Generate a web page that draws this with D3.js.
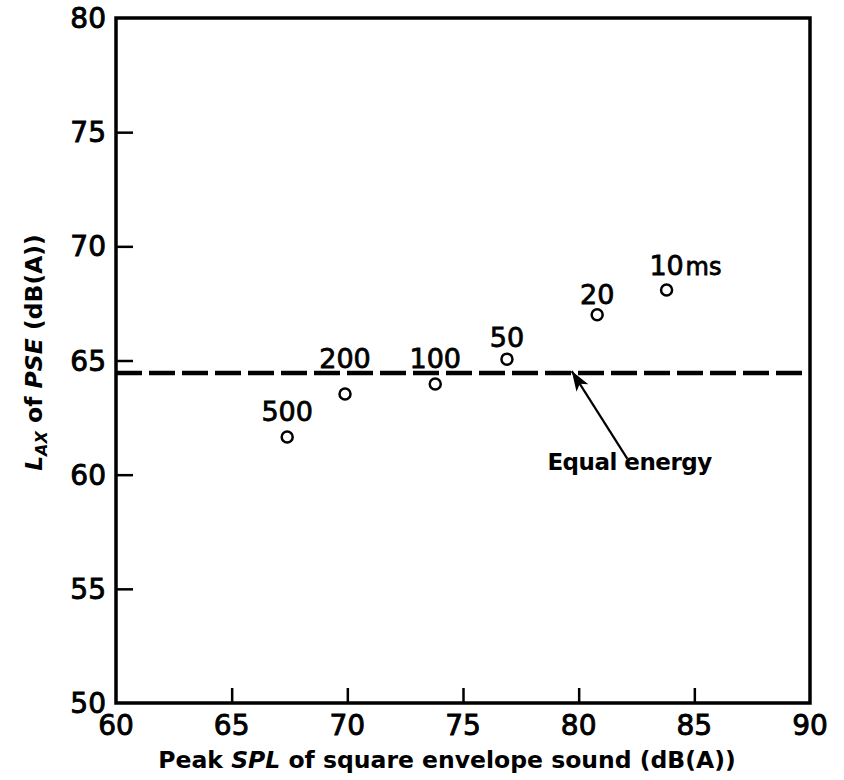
<!DOCTYPE html>
<html lang="en">
<head>
    <meta charset="UTF-8">
    <title>LAX of PSE</title>
    <script src="https://cdn.jsdelivr.net/npm/d3@7/dist/d3.min.js"></script>
    <style>
        body { margin: 0; background: white; }
        text { font-family: "DejaVu Sans", sans-serif; fill: black; }
        .tick-label { font-size: 28px; stroke: black; stroke-width: 0.9px; }
        .pt-label { font-size: 27px; stroke: black; stroke-width: 0.8px; }
        .title { font-size: 23.5px; font-weight: bold; }
        .frame { fill: none; stroke: black; stroke-width: 3.5; }
    </style>
</head>
<body>
<script>
    const width = 844;
    const height = 780;
    const margin = {top: 18, right: 34, bottom: 77, left: 116};

    // data
    const durations = ["500", "200", "100", "50", "20", "10"];
    const peakSPL = [67.4, 69.9, 73.8, 76.9, 80.8, 83.8];
    const laxPSE = [61.65, 63.53, 63.97, 65.06, 67.0, 68.09];
    const equalEnergy = 64.45;
    const xTicks = [60, 65, 70, 75, 80, 85, 90];
    const yTicks = [50, 55, 60, 65, 70, 75, 80];

    // label baseline offset above each circle (px)
    const labelDy = [16, 26, 16, 12, 11, 15];

    const svg = d3.select("body").append("svg")
            .attr("width", width).attr("height", height);

    const x = d3.scaleLinear().domain([60, 90])
            .range([margin.left, width - margin.right]);
    const y = d3.scaleLinear().domain([50, 80])
            .range([height - margin.bottom, margin.top]);

    // inward ticks, no domain line (frame drawn below)
    svg.append("g")
            .attr("transform", `translate(0,${y(50)})`)
            .call(d3.axisBottom(x).tickValues(xTicks.slice(1, -1)).tickSize(-15).tickFormat(""));
    svg.append("g")
            .attr("transform", `translate(${x(60)},0)`)
            .call(d3.axisLeft(y).tickValues(yTicks.slice(1, -1)).tickSize(-17).tickFormat(""));
    svg.selectAll(".domain").remove();
    svg.selectAll(".tick line").attr("stroke", "black").attr("stroke-width", 2.5);

    svg.append("rect")
            .attr("class", "frame")
            .attr("x", x(60)).attr("y", y(80))
            .attr("width", x(90) - x(60)).attr("height", y(50) - y(80));

    svg.selectAll("text.xt")
            .data(xTicks)
            .enter().append("text")
            .attr("class", "tick-label xt")
            .attr("x", d => x(d))
            .attr("y", y(50) + 32)
            .attr("text-anchor", "middle")
            .text(d => d);

    svg.selectAll("text.yt")
            .data(yTicks)
            .enter().append("text")
            .attr("class", "tick-label yt")
            .attr("x", x(60) - 10)
            .attr("y", d => y(d) + 10)
            .attr("text-anchor", "end")
            .text(d => d);

    // equal energy line
    svg.append("line")
            .attr("x1", x(60)).attr("x2", x(90))
            .attr("y1", y(equalEnergy)).attr("y2", y(equalEnergy))
            .attr("stroke", "black")
            .attr("stroke-width", 4.5)
            .attr("stroke-dasharray", "26 7");

    // points
    const pts = durations.map((d, i) => ({label: d, x: peakSPL[i], y: laxPSE[i], dy: labelDy[i]}));

    svg.selectAll("circle.pt")
            .data(pts)
            .enter().append("circle")
            .attr("class", "pt")
            .attr("cx", d => x(d.x))
            .attr("cy", d => y(d.y))
            .attr("r", 5.5)
            .attr("fill", "white")
            .attr("stroke", "black")
            .attr("stroke-width", 2.5);

    svg.selectAll("text.pt-label")
            .data(pts)
            .enter().append("text")
            .attr("class", "pt-label")
            .attr("x", d => x(d.x))
            .attr("y", d => y(d.y) - d.dy)
            .attr("text-anchor", "middle")
            .text(d => d.label);

    // unit after the last label
    const last = pts[pts.length - 1];
    svg.append("text")
            .attr("class", "pt-label")
            .attr("x", x(last.x) + 19)
            .attr("y", y(last.y) - last.dy)
            .style("font-size", "24px")
            .text("ms");

    // annotation arrow
    svg.append("defs").append("marker")
            .attr("id", "head")
            .attr("viewBox", "0 0 10 10")
            .attr("refX", 10).attr("refY", 5)
            .attr("markerWidth", 20).attr("markerHeight", 14)
            .attr("markerUnits", "userSpaceOnUse")
            .attr("orient", "auto")
            .attr("preserveAspectRatio", "none")
            .append("path").attr("d", "M0,0 L10,5 L0,10 L2.5,5 Z");

    svg.append("line")
            .attr("x1", x(82.1)).attr("y1", y(60.7))
            .attr("x2", x(79.7)).attr("y2", y(equalEnergy) - 2)
            .attr("stroke", "black")
            .attr("stroke-width", 2.2)
            .attr("marker-end", "url(#head)");

    svg.append("text")
            .attr("x", x(82.2))
            .attr("y", y(60.2))
            .attr("text-anchor", "middle")
            .style("font-size", "23px")
            .style("font-weight", "bold")
            .style("letter-spacing", "-0.5px")
            .text("Equal energy");

    // axis titles
    const xt = svg.append("text")
            .attr("class", "title")
            .attr("x", 447)
            .attr("y", height - 12)
            .attr("text-anchor", "middle");
    xt.append("tspan").text("Peak ");
    xt.append("tspan").style("font-style", "italic").text("SPL");
    xt.append("tspan").text(" of square envelope sound (dB(A))");

    const yt = svg.append("text")
            .attr("class", "title")
            .attr("transform", `translate(42,${y(65) - 8}) rotate(-90)`)
            .attr("text-anchor", "middle");
    yt.append("tspan").style("font-style", "italic").text("L");
    yt.append("tspan").style("font-style", "italic").style("font-size", "16px").attr("dy", 5).text("AX");
    yt.append("tspan").attr("dy", -5).text(" of ");
    yt.append("tspan").style("font-style", "italic").text("PSE");
    yt.append("tspan").text(" (dB(A))");
</script>

</body>
</html>
